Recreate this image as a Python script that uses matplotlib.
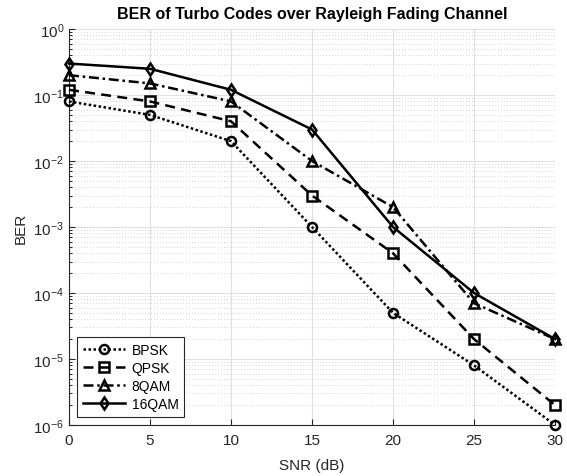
import numpy as np
import matplotlib
matplotlib.use('Agg')
import matplotlib.pyplot as plt

plt.rcParams['font.family'] = ['Liberation Sans', 'DejaVu Sans']

snr = [0, 5, 10, 15, 20, 25, 30]
ber_bpsk = [0.08, 0.05, 0.02, 1e-3, 5e-5, 8e-6, 1e-6]
ber_qpsk = [0.12, 0.08, 0.04, 3e-3, 4e-4, 2e-5, 2e-6]
ber_8qam = [0.2, 0.15, 0.08, 1e-2, 2e-3, 7e-5, 2e-5]
ber_16qam = [0.3, 0.25, 0.12, 0.03, 1e-3, 1e-4, 2e-5]

fig = plt.figure(figsize=(5.67, 4.77), dpi=100)
ax = fig.add_axes([0.1217, 0.107, 0.8572, 0.830])

kw = dict(color='black', linewidth=1.8, markersize=6.5, markerfacecolor='none',
          markeredgewidth=1.8, clip_on=False, zorder=3)
ax.semilogy(snr, ber_bpsk, linestyle=(0, (1, 1)), marker='o', label='BPSK', **kw)
ax.semilogy(snr, ber_qpsk, linestyle=(0, (4, 2.5)), marker='s', label='QPSK', **kw)
ax.semilogy(snr, ber_8qam, linestyle=(0, (4, 1.5, 1, 1.5)), marker='^', label='8QAM', **kw)
ax.semilogy(snr, ber_16qam, linestyle='-', marker='d', label='16QAM', **kw)

ax.set_xlim(0, 30)
ax.set_ylim(1e-6, 1)
ax.set_xticks([0, 5, 10, 15, 20, 25, 30])
ax.grid(True, which='major', color='#e0e0e0', linewidth=0.8, linestyle='-')
ax.grid(True, which='minor', axis='y', color='#c8c8c8', linewidth=0.6,
        linestyle=(0, (1, 2.5)))
ax.set_axisbelow(True)

for s in ['top', 'right']:
    ax.spines[s].set_visible(False)
for s in ['left', 'bottom']:
    ax.spines[s].set_color('#262626')
ax.tick_params(direction='in', colors='#262626', labelsize=11, length=4)
ax.tick_params(which='minor', direction='in', length=2)
ax.tick_params(axis='x', pad=6)

ax.set_xlabel('SNR (dB)', fontsize=11, color='#262626', labelpad=8)
ax.set_ylabel('BER', fontsize=11, color='#262626')
ax.set_title('BER of Turbo Codes over Rayleigh Fading Channel', fontsize=11.5,
             fontweight='bold', pad=8)

leg = ax.legend(loc='lower left', fontsize=10, fancybox=False, edgecolor='#262626',
                handlelength=3.0, borderaxespad=0.6, labelspacing=0.3,
                handletextpad=0.5, borderpad=0.4, framealpha=1)
leg.get_frame().set_linewidth(0.8)

fig.savefig('out.png', dpi=100)
